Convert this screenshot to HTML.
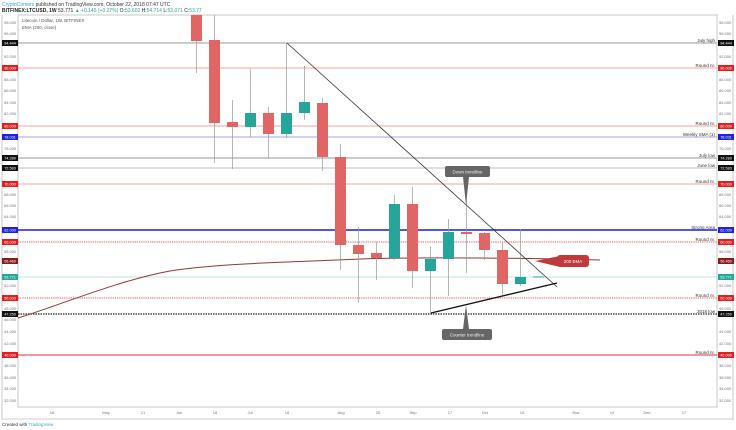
<!DOCTYPE html>
<html><head><meta charset="utf-8"><style>
html,body{margin:0;padding:0;background:#fff;}
svg{display:block;font-family:"Liberation Sans",sans-serif;}
</style></head><body>
<svg width="736" height="430" viewBox="0 0 736 430" xmlns="http://www.w3.org/2000/svg">
<rect width="736" height="430" fill="#fff"/>
<text x="2" y="6" font-size="5" fill="#333"><tspan fill="#3aa3d8">CryptoComers</tspan> published on TradingView.com, October 22, 2018 07:47 UTC</text>
<text x="2" y="12" font-size="5" fill="#222" font-weight="bold">BITFINEX:LTCUSD, 1W <tspan font-weight="normal">53.771 <tspan fill="#26a69a">▲ +0.145 (+0.27%)</tspan> O:<tspan fill="#26a69a">53.602</tspan> H:<tspan fill="#26a69a">54.714</tspan> L:<tspan fill="#26a69a">53.071</tspan> C:<tspan fill="#26a69a">53.77</tspan></tspan></text>
<!-- frame -->
<rect x="18" y="15" width="699" height="392" fill="none" stroke="#bbb" stroke-width="0.8"/>
<line x1="733" y1="15" x2="733" y2="420" stroke="#bbb" stroke-width="0.8"/>
<line x1="2" y1="15" x2="2" y2="420" stroke="#bbb" stroke-width="0.8"/>
<line x1="2" y1="419" x2="733" y2="419" stroke="#bbb" stroke-width="0.8"/>
<text x="22" y="22" font-size="4.5" fill="#555">Litecoin / Dollar, 1W, BITFINEX</text>
<text x="22" y="29" font-size="4.5" fill="#555">EMA (200, close)</text>
<!-- tick labels -->
<g font-size="4" fill="#777">
<text x="4" y="24">98.000</text><text x="4" y="35">96.000</text><text x="4" y="58">92.000</text><text x="4" y="81">88.000</text><text x="4" y="92">86.000</text><text x="4" y="104">84.000</text><text x="4" y="115">82.000</text><text x="4" y="150">76.000</text><text x="4" y="196">68.000</text><text x="4" y="207">66.000</text><text x="4" y="218">64.000</text><text x="4" y="253">58.000</text><text x="4" y="287">52.000</text><text x="4" y="310">48.000</text><text x="4" y="321">46.000</text><text x="4" y="333">44.000</text><text x="4" y="345">42.000</text><text x="4" y="367">38.000</text><text x="4" y="379">36.000</text><text x="4" y="390">34.000</text><text x="4" y="402">32.000</text>
<text x="719" y="24">98.000</text><text x="719" y="35">96.000</text><text x="719" y="58">92.000</text><text x="719" y="81">88.000</text><text x="719" y="92">86.000</text><text x="719" y="104">84.000</text><text x="719" y="115">82.000</text><text x="719" y="150">76.000</text><text x="719" y="196">68.000</text><text x="719" y="207">66.000</text><text x="719" y="218">64.000</text><text x="719" y="253">58.000</text><text x="719" y="287">52.000</text><text x="719" y="310">48.000</text><text x="719" y="333">44.000</text><text x="719" y="345">42.000</text><text x="719" y="367">38.000</text><text x="719" y="379">36.000</text><text x="719" y="390">34.000</text><text x="719" y="402">32.000</text>
</g>
<g font-size="4" fill="#777" text-anchor="middle">
<text x="52" y="414">16</text><text x="106" y="414">May</text><text x="143" y="414">21</text><text x="179" y="414">Jun</text><text x="215" y="414">18</text><text x="250" y="414">Jul</text><text x="287" y="414">16</text><text x="341" y="414">Aug</text><text x="378" y="414">20</text><text x="413" y="414">Sep</text><text x="450" y="414">17</text><text x="485" y="414">Oct</text><text x="522" y="414">15</text><text x="576" y="414">Nov</text><text x="612" y="414">19</text><text x="647" y="414">Dec</text><text x="684" y="414">17</text>
</g>
<!-- horizontal levels -->
<line x1="18" y1="43" x2="717" y2="43" stroke="#999" stroke-width="1"/>
<line x1="18" y1="68" x2="717" y2="68" stroke="#f08080" stroke-width="0.7"/>
<line x1="18" y1="126" x2="717" y2="126" stroke="#f08080" stroke-width="0.7"/>
<line x1="18" y1="137" x2="717" y2="137" stroke="#8888ee" stroke-width="0.7"/>
<line x1="18" y1="158" x2="717" y2="158" stroke="#ccc" stroke-width="2"/>
<line x1="18" y1="168" x2="717" y2="168" stroke="#aaa" stroke-width="0.8"/>
<line x1="18" y1="184" x2="717" y2="184" stroke="#f08080" stroke-width="0.7"/>
<line x1="18" y1="230" x2="717" y2="230" stroke="#1a1adf" stroke-width="1.6"/>
<line x1="18" y1="242" x2="717" y2="242" stroke="#e05050" stroke-width="0.9" stroke-dasharray="1.2,1"/>
<line x1="18" y1="277" x2="717" y2="277" stroke="#a8dcd6" stroke-width="0.7"/>
<line x1="18" y1="298" x2="717" y2="298" stroke="#e05050" stroke-width="0.9" stroke-dasharray="1.2,1"/>
<line x1="18" y1="314" x2="717" y2="314" stroke="#222" stroke-width="1.3" stroke-dasharray="1.5,1"/>
<line x1="18" y1="355" x2="717" y2="355" stroke="#e03030" stroke-width="1"/>
<!-- EMA -->
<path d="M18,318 C60,305 120,280 170,271 C220,263 300,262 360,259 C420,257 520,258 600,260" fill="none" stroke="#8b3a3a" stroke-width="1"/>
<!-- candles -->
<g stroke="#999" stroke-width="0.7">
<line x1="196.5" y1="15" x2="196.5" y2="73"/><line x1="214.5" y1="15" x2="214.5" y2="163"/><line x1="232.5" y1="100" x2="232.5" y2="169"/><line x1="250.5" y1="69" x2="250.5" y2="137"/><line x1="268.5" y1="107" x2="268.5" y2="159"/><line x1="286.5" y1="43" x2="286.5" y2="138"/><line x1="304.5" y1="66" x2="304.5" y2="120"/><line x1="322.5" y1="98" x2="322.5" y2="171"/><line x1="340.5" y1="144" x2="340.5" y2="270"/><line x1="358.5" y1="227" x2="358.5" y2="303"/><line x1="376.5" y1="242" x2="376.5" y2="280"/><line x1="394.5" y1="195" x2="394.5" y2="260"/><line x1="412.5" y1="187" x2="412.5" y2="288"/><line x1="430.5" y1="246" x2="430.5" y2="314"/><line x1="448.5" y1="219" x2="448.5" y2="296"/><line x1="466.5" y1="197" x2="466.5" y2="273"/><line x1="484.5" y1="232" x2="484.5" y2="260"/><line x1="502.5" y1="243" x2="502.5" y2="295"/><line x1="520.5" y1="229" x2="520.5" y2="286"/>
</g>
<g fill="#e06666">
<rect x="191" y="15" width="11" height="26"/><rect x="209" y="40" width="11" height="83"/><rect x="227" y="122" width="11" height="5"/><rect x="263" y="113" width="11" height="21"/><rect x="317" y="103" width="11" height="54"/><rect x="335" y="157" width="11" height="88"/><rect x="353" y="245" width="11" height="9"/><rect x="371" y="253" width="11" height="5"/><rect x="407" y="204" width="11" height="67"/><rect x="461" y="232" width="11" height="2"/><rect x="479" y="233" width="11" height="17"/><rect x="497" y="250" width="11" height="34"/>
</g>
<g fill="#26a69a">
<rect x="245" y="113" width="11" height="14"/><rect x="281" y="113" width="11" height="21"/><rect x="299" y="102" width="11" height="11"/><rect x="389" y="204" width="11" height="54"/><rect x="425" y="259" width="11" height="12"/><rect x="443" y="232" width="11" height="27"/><rect x="515" y="277" width="11" height="7"/>
</g>
<line x1="533" y1="277" x2="544" y2="277" stroke="#26a69a" stroke-width="1"/>
<!-- trendlines -->
<line x1="287" y1="43" x2="557" y2="287" stroke="#333" stroke-width="0.8"/>
<line x1="431" y1="313" x2="557" y2="283" stroke="#111" stroke-width="1.3"/>
<!-- callouts -->
<polygon points="463,177 469,177 466,205" fill="#666"/>
<rect x="445" y="166" width="45" height="11" rx="2" fill="#666"/>
<text x="467.5" y="173.5" font-size="4.5" fill="#eee" text-anchor="middle">Down trendline</text>
<polygon points="463,329 469,329 466,305" fill="#666"/>
<rect x="442" y="329" width="50" height="11" rx="2" fill="#666"/>
<text x="467" y="336.5" font-size="4.5" fill="#eee" text-anchor="middle">Counter trendline</text>
<polygon points="535,261 560,256 560,267" fill="#c0393b"/>
<rect x="557" y="255" width="32" height="12" rx="3" fill="#c0393b"/>
<text x="573" y="263" font-size="4.5" fill="#fff" text-anchor="middle">200 EMA</text>
<!-- line labels -->
<g font-size="4.5" fill="#333" text-anchor="end">
<text x="715" y="42">July high</text><text x="715" y="67">Round nr.</text><text x="715" y="125">Round nr.</text><text x="715" y="136">Weekly SMA (1)</text><text x="715" y="157">July low</text><text x="715" y="167">June low</text><text x="715" y="183">Round nr.</text><text x="715" y="229">Strong Area</text><text x="715" y="241">Round nr.</text><text x="715" y="297">Round nr.</text><text x="715" y="313">2018 low</text><text x="715" y="354">Round nr.</text>
</g>
<!-- price tags -->
<g font-size="3.8" fill="#fff" text-anchor="middle">
<rect x="2" y="40" width="16" height="6" fill="#111"/><text x="10" y="44.5">94.444</text>
<rect x="2" y="65" width="16" height="6" fill="#e02020"/><text x="10" y="69.5">90.000</text>
<rect x="2" y="123" width="16" height="6" fill="#e02020"/><text x="10" y="127.5">80.000</text>
<rect x="2" y="134" width="16" height="6" fill="#2020dd"/><text x="10" y="138.5">78.031</text>
<rect x="2" y="155" width="16" height="6" fill="#111"/><text x="10" y="159.5">74.280</text>
<rect x="2" y="165" width="16" height="6" fill="#111"/><text x="10" y="169.5">72.583</text>
<rect x="2" y="181" width="16" height="6" fill="#e02020"/><text x="10" y="185.5">70.000</text>
<rect x="2" y="227" width="16" height="6" fill="#2020dd"/><text x="10" y="231.5">62.000</text>
<rect x="2" y="239" width="16" height="6" fill="#e02020"/><text x="10" y="243.5">60.000</text>
<rect x="2" y="258" width="16" height="6" fill="#8b1a1a"/><text x="10" y="262.5">56.460</text>
<rect x="2" y="274" width="16" height="6" fill="#26a69a"/><text x="10" y="278.5">53.771</text>
<rect x="2" y="295" width="16" height="6" fill="#e02020"/><text x="10" y="299.5">50.000</text>
<rect x="2" y="311" width="16" height="6" fill="#111"/><text x="10" y="315.5">47.250</text>
<rect x="2" y="352" width="16" height="6" fill="#e02020"/><text x="10" y="356.5">40.000</text>
<rect x="718" y="40" width="16" height="6" fill="#111"/><text x="726" y="44.5">94.444</text>
<rect x="718" y="65" width="16" height="6" fill="#e02020"/><text x="726" y="69.5">90.000</text>
<rect x="718" y="123" width="16" height="6" fill="#e02020"/><text x="726" y="127.5">80.000</text>
<rect x="718" y="134" width="16" height="6" fill="#2020dd"/><text x="726" y="138.5">78.031</text>
<rect x="718" y="155" width="16" height="6" fill="#111"/><text x="726" y="159.5">74.280</text>
<rect x="718" y="165" width="16" height="6" fill="#111"/><text x="726" y="169.5">72.583</text>
<rect x="718" y="181" width="16" height="6" fill="#e02020"/><text x="726" y="185.5">70.000</text>
<rect x="718" y="227" width="16" height="6" fill="#2020dd"/><text x="726" y="231.5">62.000</text>
<rect x="718" y="239" width="16" height="6" fill="#e02020"/><text x="726" y="243.5">60.000</text>
<rect x="718" y="258" width="16" height="6" fill="#8b1a1a"/><text x="726" y="262.5">56.460</text>
<rect x="718" y="274" width="16" height="6" fill="#26a69a"/><text x="726" y="278.5">53.771</text>
<rect x="718" y="295" width="16" height="6" fill="#e02020"/><text x="726" y="299.5">50.000</text>
<rect x="718" y="311" width="16" height="6" fill="#111"/><text x="726" y="315.5">47.250</text>
<rect x="718" y="352" width="16" height="6" fill="#e02020"/><text x="726" y="356.5">40.000</text>
</g>
<text x="2" y="426" font-size="4.5" fill="#333">Created with <tspan fill="#3aa3d8">TradingView</tspan></text>
</svg>
</body></html>
